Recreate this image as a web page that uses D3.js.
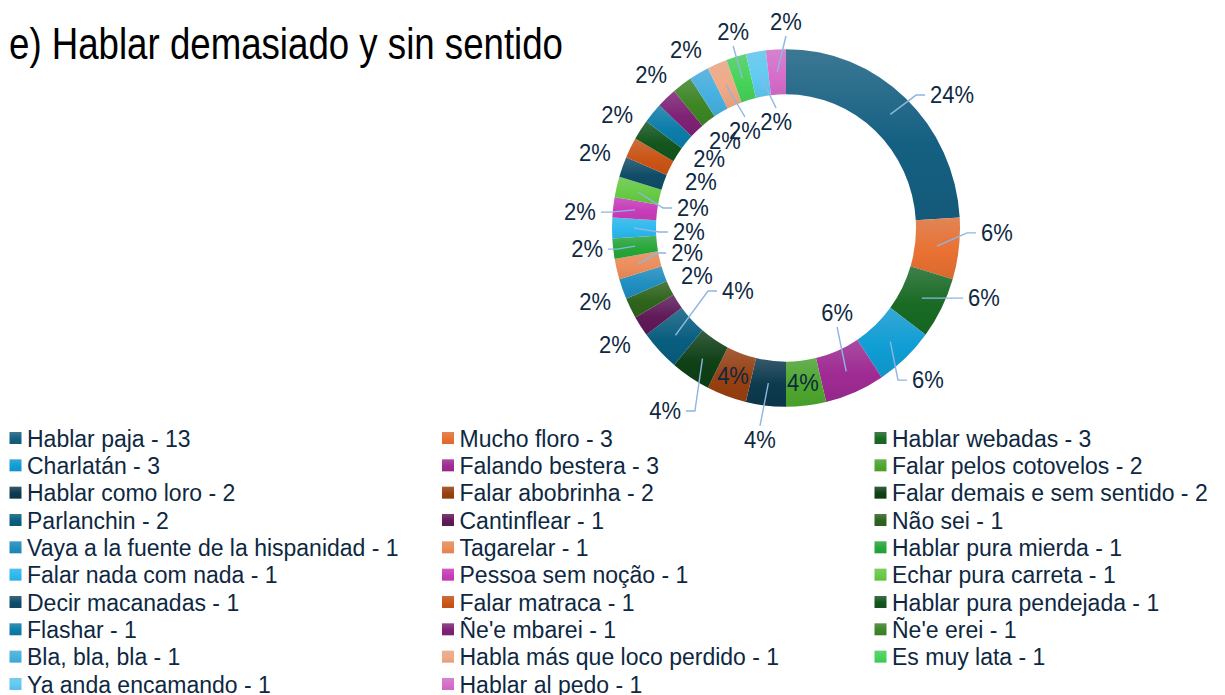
<!DOCTYPE html>
<html><head><meta charset="utf-8">
<script src="https://cdn.jsdelivr.net/npm/d3@7"></script>
<style>html,body{margin:0;padding:0;background:#fff;} svg{display:block;}</style>
</head><body>
<svg id="chart" width="1225" height="695"></svg>
<script>
const chartTitle = "e) Hablar demasiado y sin sentido";
const categories = [
  "Hablar paja", "Mucho floro", "Hablar webadas", "Charlatán", "Falando bestera",
  "Falar pelos cotovelos", "Hablar como loro", "Falar abobrinha", "Falar demais e sem sentido", "Parlanchin",
  "Cantinflear", "Não sei", "Vaya a la fuente de la hispanidad", "Tagarelar", "Hablar pura mierda",
  "Falar nada com nada", "Pessoa sem noção", "Echar pura carreta", "Decir macanadas", "Falar matraca",
  "Hablar pura pendejada", "Flashar", "Ñe'e mbarei", "Ñe'e erei", "Bla, bla, bla",
  "Habla más que loco perdido", "Es muy lata", "Ya anda encamando", "Hablar al pedo"
];
const counts = [13, 3, 3, 3, 3, 2, 2, 2, 2, 2, 1, 1, 1, 1, 1, 1, 1, 1, 1, 1, 1, 1, 1, 1, 1, 1, 1, 1, 1];

// Office theme accents and the tint/shade tiers Excel cycles through
const themeAccents = ["#156082", "#E97132", "#196B24", "#0F9ED5", "#A02B93", "#4EA72E"];
const tierMods = [[1, 0], [0.6, 0], [0.8, 0.2], [0.8, 0], [0.6, 0.4]];

// label placement (layout): angle in degrees clockwise from top, distance from centre
const labelAngles = [52.1, 91.3, 109.0, 136.2, 148.3, 173.6, 187.2, 200.2, 214.2, 218.1,
  236.4, 242.3, 249.3, 256.2, 264.1, 267.7, 274.3, 281.8, 290.9, 297.7,
  303.1, 311.1, 317.8, 324.2, 330, 336.5, 344.5, 354.5, 360];
const labelRadii = [210.5, 211, 209.4, 205, 97.2, 151.8, 207.8, 153.4, 215.2, 77.9,
  205.4, 100.5, 204.1, 101.9, 200, 97.1, 206.6, 95, 204.5, 96,
  201.6, 102.1, 200.9, 104.3, 200, 102.9, 197.9, 103.6, 200.4];
const labelLeaders = [1, 1, 1, 1, 1, 0, 1, 0, 1, 1,
  0, 0, 0, 1, 1, 1, 1, 1, 0, 0,
  0, 0, 0, 0, 0, 1, 1, 1, 1];

const svg = d3.select("#chart");
const cx = 786, cy = 228, R = 174, r0 = 130, ys = 1.028;
const textStretch = 1.05;
const textColor = "#0E2841";
const fontFam = "'Liberation Sans', Arial, sans-serif";

function sliceColor(i) {
  const c = d3.hsl(themeAccents[i % 6]);
  const [m, o] = tierMods[Math.floor(i / 6) % 5];
  c.l = c.l * m + o;
  return c.formatHex();
}

const defs = svg.append("defs");
categories.forEach((c, i) => {
  const base = sliceColor(i);
  const g = defs.append("linearGradient").attr("id", "g" + i)
    .attr("x1", 0).attr("y1", 0).attr("x2", 0).attr("y2", 1);
  g.append("stop").attr("offset", "0%").attr("stop-color", d3.interpolateRgb(base, "#c4ccd4")(0.22));
  g.append("stop").attr("offset", "55%").attr("stop-color", base);
  g.append("stop").attr("offset", "100%").attr("stop-color", d3.color(base).darker(0.2).formatHex());
});

// Title
svg.append("text")
  .attr("transform", "translate(9,58.5) scale(1,1.04)")
  .attr("font-family", "'Liberation Sans Narrow', 'Arial Narrow', 'Liberation Sans', sans-serif")
  .attr("font-size", 42)
  .attr("fill", "#000")
  .attr("textLength", 554).attr("lengthAdjust", "spacingAndGlyphs")
  .text(chartTitle);

// Donut
const pieData = d3.pie().sort(null).value(d => d)(counts);
const arc = d3.arc().innerRadius(r0).outerRadius(R);
const pg = svg.append("g").attr("transform", `translate(${cx},${cy}) scale(1,${ys})`);
pg.selectAll("path").data(pieData).join("path")
  .attr("d", arc)
  .attr("fill", (d, i) => `url(#g${i})`);

// Data labels
const total = d3.sum(counts);
const pct = v => Math.round(v / total * 100) + "%";
const toXY = (deg, rad) => [cx + rad * Math.sin(deg * Math.PI / 180), cy - rad * Math.cos(deg * Math.PI / 180) * ys];

const leaderG = svg.append("g");
const labelG = svg.append("g");
pieData.forEach((d, i) => {
  const [lx, ly] = toXY(labelAngles[i], labelRadii[i]);
  const t = labelG.append("text")
    .attr("transform", `translate(${lx},${ly}) scale(1,${textStretch})`)
    .attr("dy", "0.36em")
    .attr("text-anchor", "middle")
    .attr("font-family", fontFam).attr("font-size", 22)
    .attr("fill", textColor)
    .text(pct(d.value));
  if (!labelLeaders[i]) return;
  const hw = t.node().getComputedTextLength() / 2;
  const c = arc.centroid(d);
  const sx = cx + c[0], sy = cy + c[1] * ys;
  const dx = lx - sx;
  let pts;
  if (Math.abs(dx) > hw + 8) {
    const s = Math.sign(dx);
    const ex = lx - s * (hw + 5), ey = ly;
    pts = [[sx, sy], [ex - s * 9, ey], [ex, ey]];
  } else {
    const s = Math.sign(ly - sy);
    pts = [[sx, sy], [lx, ly - s * 14]];
  }
  leaderG.append("path")
    .attr("d", d3.line()(pts))
    .attr("fill", "none")
    .attr("stroke", "#8DB6E2")
    .attr("stroke-width", 1.4);
});

// Legend
const x0 = 9.5, colW = 432.5, y0 = 438, rowH = 27.33;
const lg = svg.append("g");
categories.forEach((name, i) => {
  const col = i % 3, row = Math.floor(i / 3);
  const x = x0 + col * colW, y = y0 + row * rowH;
  lg.append("rect").attr("x", x).attr("y", y - 6).attr("width", 12).attr("height", 12)
    .attr("fill", `url(#g${i})`);
  lg.append("text")
    .attr("transform", `translate(${x + 17.5},${y}) scale(1,${textStretch})`)
    .attr("dy", "0.36em")
    .attr("font-family", fontFam).attr("font-size", 23)
    .attr("fill", textColor)
    .text(`${name} - ${counts[i]}`);
});
</script>
</body></html>
